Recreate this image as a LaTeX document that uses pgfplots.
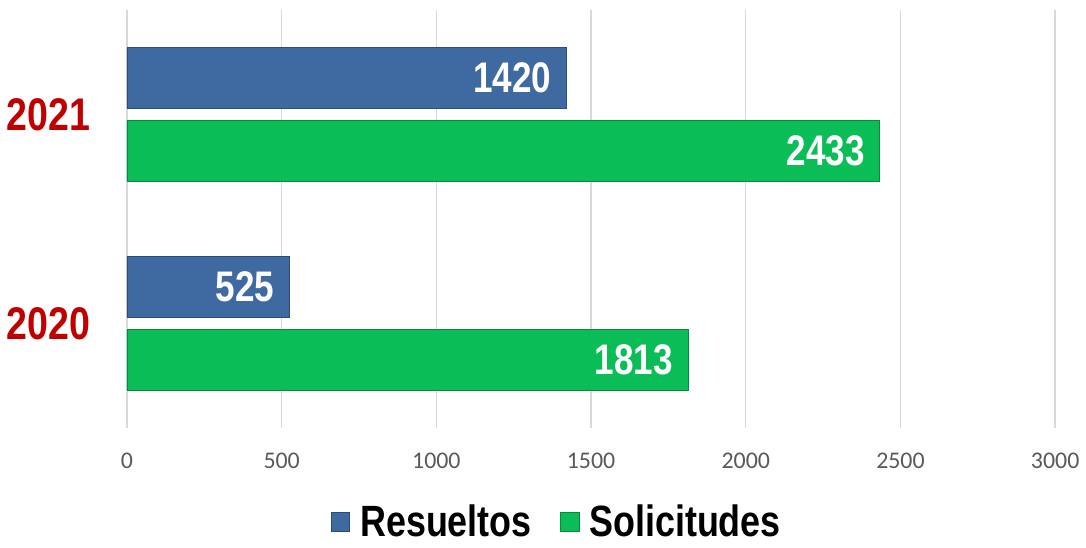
\documentclass[border=0pt]{standalone}
\usepackage{pgfplots}
\pgfplotsset{compat=1.18}
\usepackage{fontspec}
\setmainfont{Liberation Sans}
\newfontfamily\narrow[FakeStretch=0.82]{Liberation Sans}
\newfontfamily\calib{Carlito}

\definecolor{resBlue}{HTML}{3E69A1}
\definecolor{resEdge}{HTML}{2B4C78}
\definecolor{solGreen}{HTML}{0BBD57}
\definecolor{solEdge}{HTML}{078A3E}
\definecolor{catRed}{HTML}{C00000}
\definecolor{gridGray}{HTML}{D9D9D9}
\definecolor{tickGray}{HTML}{595959}

\begin{document}
\begin{tikzpicture}
\begin{axis}[
scale only axis,
width=466.5pt, height=210pt,
xbar,
bar width=0.29,
xmin=0, xmax=3000,
ymin=-0.5, ymax=1.5,
xtick={0,500,1000,1500,2000,2500,3000},
ytick={0,1},
yticklabels={2020,2021},
axis line style={draw=none},
major tick length=0pt,
xmajorgrids,
grid style={gridGray, line width=0.7pt},
/pgf/number format/assume math mode=true,
/pgf/number format/set thousands separator={},
xticklabel style={font=\calib\fontsize{12}{14}\selectfont, text=tickGray, yshift=-9pt},
yticklabel style={font=\narrow\bfseries\fontsize{23}{26}\selectfont, text=catRed, xshift=-15pt},
nodes near coords,
every node near coord/.append style={anchor=east, xshift=-4pt, text=white,
  font=\narrow\bfseries\fontsize{21.5}{24}\selectfont},
legend style={draw=none, at={(axis description cs:0.464,-0.226)}, anchor=center,
  legend columns=-1, font=\narrow\bfseries\fontsize{22}{26}\selectfont,
  /tikz/every odd column/.append style={column sep=3pt},
  /tikz/every even column/.append style={column sep=12pt}},
legend image code/.code={\fill[#1] (0pt,-4.5pt) rectangle (9.5pt,5pt);},
]
\addplot[fill=resBlue, draw=resEdge, bar shift=0.174] coordinates {(525,0) (1420,1)};
\addlegendentry{Resueltos}
\addplot[fill=solGreen, draw=solEdge, bar shift=-0.174] coordinates {(1813,0) (2433,1)};
\addlegendentry{Solicitudes}
\end{axis}
\useasboundingbox (-63.5pt,-56.5pt) rectangle (479.5pt,215pt);
\end{tikzpicture}
\end{document}
